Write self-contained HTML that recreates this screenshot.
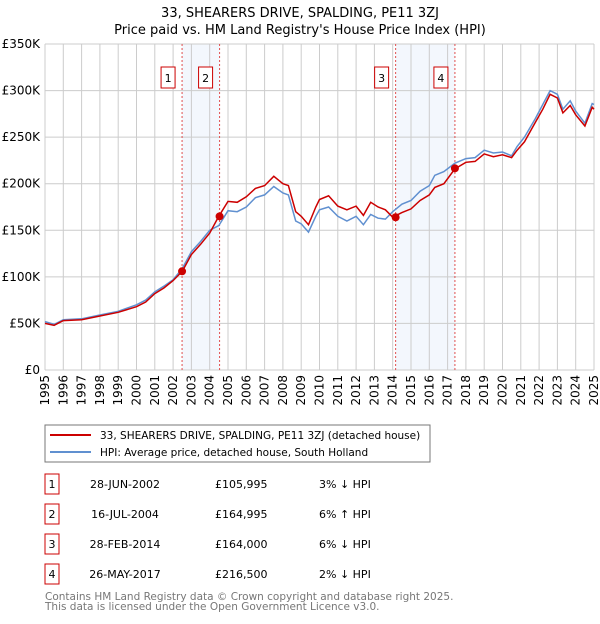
<!DOCTYPE html>
<html><head><meta charset="utf-8"><style>
body{margin:0;background:#fff;font-family:"DejaVu Sans","Liberation Sans",sans-serif;}
svg text{font-family:"DejaVu Sans","Liberation Sans",sans-serif;}
</style></head><body>
<svg id="chart" width="600" height="620" xmlns="http://www.w3.org/2000/svg">
<text x="300" y="17" text-anchor="middle" font-size="13">33, SHEARERS DRIVE, SPALDING, PE11 3ZJ</text>
<text x="300" y="34" text-anchor="middle" font-size="13">Price paid vs. HM Land Registry's House Price Index (HPI)</text>
<g id="plot"></g>
<g>
<rect x="45" y="425" width="385" height="37" fill="#fff" stroke="#777"/>
<line x1="50" y1="435" x2="91" y2="435" stroke="#cc0000" stroke-width="2"/>
<text x="100" y="439" font-size="10.5">33, SHEARERS DRIVE, SPALDING, PE11 3ZJ (detached house)</text>
<line x1="50" y1="452" x2="91" y2="452" stroke="#6090d0" stroke-width="2"/>
<text x="100" y="456" font-size="10.5">HPI: Average price, detached house, South Holland</text>
</g>
<g id="table"></g>
<text x="45" y="600" font-size="10.5" fill="#777">Contains HM Land Registry data © Crown copyright and database right 2025.</text>
<text x="45" y="610" font-size="10.5" fill="#777">This data is licensed under the Open Government Licence v3.0.</text>
</svg>
<script>
const years=[1995,1995.5,1996,1997,1998,1999,2000,2000.5,2001,2001.5,2002,2002.5,2003,2003.5,2004,2004.5,2005,2005.5,2006,2006.5,2007,2007.5,2008,2008.3,2008.7,2009,2009.4,2009.8,2010,2010.5,2011,2011.5,2012,2012.4,2012.8,2013.2,2013.6,2014,2014.5,2015,2015.5,2016,2016.3,2016.8,2017.4,2018,2018.5,2019,2019.5,2020,2020.5,2020.8,2021.2,2021.8,2022.2,2022.6,2023,2023.3,2023.7,2024,2024.5,2024.9,2025];
const hpi=[52,49,54,55,59,63,70,75,84,90,97,109,127,138,150,155,171,170,175,185,188,197,190,188,160,157,148,165,172,175,165,160,165,156,167,163,162,170,178,182,192,198,209,213,222,227,228,236,233,234,230,240,250,270,285,300,296,280,289,278,265,286,285];
const paid=[50,48,53,54,58,62,68,73,82,88,96,106,124,135,147,165,181,180,186,195,198,208,200,198,170,165,156,175,183,187,176,172,176,166,180,175,172,164,169,173,182,188,196,200,216,223,224,232,229,231,228,236,245,266,280,296,292,276,284,274,262,282,280];
const yTicks=[0,50,100,150,200,250,300,350];
const saleNums=["1","2","3","4"];
const saleYears=[2002.49,2004.54,2014.16,2017.4];
const saleVals=[105.995,164.995,164,216.5];
const saleDates=["28-JUN-2002","16-JUL-2004","28-FEB-2014","26-MAY-2017"];
const salePrices=["£105,995","£164,995","£164,000","£216,500"];
const saleHpi=["3% ↓ HPI","6% ↑ HPI","6% ↓ HPI","2% ↓ HPI"];
const NS="http://www.w3.org/2000/svg";
const X=y=>45+(y-1995)*(594-45)/30;
const Y=v=>370-v*(326/350);
function mk(tag,attrs,parent,text){const e=document.createElementNS(NS,tag);for(const k in attrs)e.setAttribute(k,attrs[k]);if(text!==undefined)e.textContent=text;parent.appendChild(e);return e;}
const g=document.getElementById('plot');
for(let i=0;i<4;i+=2){const r=mk('rect',{x:X(saleYears[i]),y:44,width:X(saleYears[i+1])-X(saleYears[i]),height:326,fill:'#eef3fc',opacity:0.7},g);

}
for(let yr=1995;yr<=2025;yr++){const l=mk('line',{x1:X(yr),x2:X(yr),y1:44,y2:370,stroke:'#ccc','stroke-width':1},g);


const t=mk('text',{x:0,y:0,'font-size':12,'text-anchor':'end',transform:`translate(${X(yr)+4},375) rotate(-90)`},g,String(yr));

}
yTicks.forEach(v=>{const l=mk('line',{x1:45,x2:594,y1:Y(v),y2:Y(v),stroke:'#ccc','stroke-width':1},g);


const t=mk('text',{x:40,y:Y(v)+4,'font-size':12,'text-anchor':'end'},g,v===0?'£0':'£'+v+'K');

});
saleYears.forEach((yr,i)=>{const l=mk('line',{x1:X(yr),x2:X(yr),y1:44,y2:370,stroke:'#e05050','stroke-width':1,'stroke-dasharray':'2,2'},g);


const r=mk('rect',{x:X(yr)-21,y:67,width:14,height:21,fill:'#fff',stroke:'#cc0000'},g);


const t=mk('text',{x:X(yr)-14,y:82,'font-size':11,'text-anchor':'middle'},g,saleNums[i]);

});
const pts=a=>a.map((v,i)=>X(years[i]).toFixed(1)+','+Y(v).toFixed(1)).join(' ');
const h=mk('polyline',{points:pts(hpi),fill:'none',stroke:'#6090d0','stroke-width':1.5},g);


const p=mk('polyline',{points:pts(paid),fill:'none',stroke:'#cc0000','stroke-width':1.5},g);


saleYears.forEach((yr,i)=>{const c=mk('circle',{cx:X(yr),cy:Y(saleVals[i]),r:4,fill:'#cc0000'},g);

});
const tb=document.getElementById('table');
saleNums.forEach((n,i)=>{const y=483+i*30;
const r=mk('rect',{x:45,y:y-9,width:14,height:20,fill:'#fff',stroke:'#cc0000'},tb);


const cells=[[52,n,'middle'],[125,saleDates[i],'middle'],[215,salePrices[i],'start'],[319,saleHpi[i],'start']];
cells.forEach(c=>{const t=mk('text',{x:c[0],y:y+5,'font-size':11,'text-anchor':c[2]},tb,c[1]);

});});
</script>
</body></html>
